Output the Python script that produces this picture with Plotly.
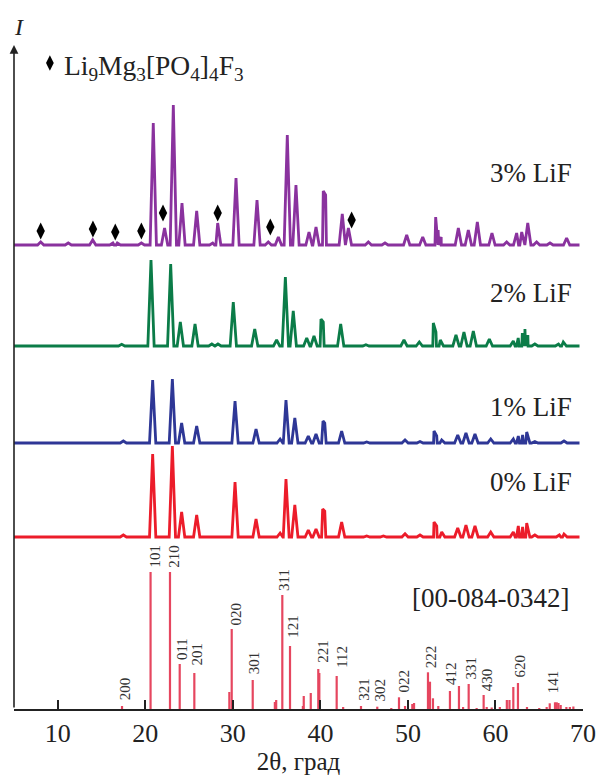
import plotly.graph_objects as go

# ---------------- data ----------------
# sample patterns: peak 2theta positions and heights (arb. units above each baseline)
pos_0 = [17.49, 20.84, 23.09, 24.15, 25.87, 30.25, 32.65, 35.4, 36.07, 37.08, 38.62, 39.5, 40.26, 40.5,
         42.43, 45.29, 47.2, 49.67, 51.38, 52.98, 53.29, 53.86, 55.69, 56.63, 57.66, 59.46,
         62.04, 62.61, 63.1, 63.57, 64.5, 67.3, 67.83]
int_0 = [2, 83, 91, 25, 22, 55, 18, 4, 58, 32, 7, 8, 28, 26,
         15, 1, 1, 3.3, 2, 15, 11, 5, 9, 12, 11, 5,
         5, 11, 10, 14, 2, 2, 3]

pos_1 = [17.49, 20.84, 23.09, 24.15, 25.87, 30.25, 32.65, 35.4, 36.07, 37.08, 38.62, 39.5, 40.3, 40.5,
         42.43, 45.29, 49.67, 51.38, 52.98, 53.29, 53.86, 55.69, 56.63, 57.66, 59.46,
         62.04, 62.61, 63.1, 63.57, 64.5, 67.83]
int_1 = [2, 63, 64, 20, 17, 42, 14, 4, 43, 25, 7, 9, 22, 20,
         12, 1, 3, 1.5, 12, 7, 3, 8, 10, 9, 4,
         4, 7, 8, 11, 1.5, 2]

pos_2 = [17.3, 20.65, 22.9, 24.0, 25.68, 27.6, 28.3, 30.05, 32.5, 35.0, 36.0, 36.9, 38.44, 39.27, 40.07, 40.33,
         42.32, 45.2, 49.55, 51.3, 52.9, 53.2, 53.7, 55.49, 56.4, 57.47, 59.3,
         62.04, 62.6, 63.07, 63.37, 63.7, 64.5, 67.2, 67.75]
int_2 = [1.7, 86, 82, 24, 22, 2, 2, 44, 17, 6, 69, 35, 8, 10, 27, 24,
         22, 1.3, 6, 4, 23, 14, 6, 11, 14, 15, 7,
         5, 8, 13, 17, 11, 2, 2, 4]

pos_3 = [8.05, 11.2, 13.99, 16.3, 16.8, 19.55, 20.91, 22.2, 23.2, 24.19, 25.87, 27.7, 28.27, 30.36, 32.76,
         34.05, 35.2, 36.22, 37.21, 38.7, 39.5, 40.33, 40.6, 42.5, 43.2, 45.48, 47.38,
         49.86, 51.69, 53.17, 53.45, 53.8, 55.76, 56.9, 57.93, 59.6, 61.28, 62.42, 63.0, 63.69,
         64.7, 66.23, 68.13]
int_3 = [3, 2, 5, 2, 2, 2, 122, 17, 140, 42, 34, 2, 22, 67, 45,
         3, 8, 110, 60, 13, 18, 54, 50, 31, 17, 3, 2,
         10, 8, 28, 15, 8, 17, 15, 23, 12, 3, 12, 13, 22,
         3, 2, 7]

# Li9Mg3[PO4]4F3 impurity marks (2theta, level above baseline)
imp_pos = [8.05, 14.02, 16.57, 19.55, 22.02, 28.27, 34.28, 43.57]
imp_lvl = [14, 16, 13, 14, 32, 32, 18, 25]

# reference card [00-084-0342]
ref_pos = [17.34, 20.6, 22.82, 23.93, 25.6, 29.6, 29.87, 32.27, 34.8, 34.95, 35.65, 36.53, 38.0, 38.1, 38.9,
           39.76, 39.88, 41.86, 42.6, 44.64, 46.5, 48.1, 48.98, 49.67, 50.5, 50.7, 52.29, 52.52, 52.86,
           53.47, 54.8, 55.83, 56.3, 56.94, 57.85, 58.65, 59.0, 59.57, 60.5, 61.3, 61.6, 62.04, 62.57,
           63.6, 65.0, 65.85, 66.2, 66.8, 67.0, 67.2, 67.45, 68.1, 68.5, 68.9]
ref_int = [3, 137, 137, 45, 36, 17, 80, 29, 7, 9, 114, 63, 3, 13, 16,
           40, 36, 33, 2, 3, 2.3, 1, 11.7, 3, 5, 6, 36.7, 27.3, 10.7,
           3, 18, 23, 2, 25, 1, 14, 2, 1.5, 2, 9, 9, 22, 26,
           2, 1, 2, 5.7, 6.7, 6.7, 6, 4, 2, 2, 2.5]

hkl = ['200', '101', '210', '011', '201', '020', '301', '311', '121', '221', '112',
       '321', '302', '022', '222', '412', '331', '430', '620', '141']
hkl_pos = [17.65, 21.0, 23.2, 24.2, 25.8, 30.35, 32.4, 35.85, 36.8, 40.2, 42.45,
           44.9, 46.8, 49.45, 52.6, 54.85, 57.1, 59.0, 62.7, 66.55]
hkl_lvl = [7, 139, 139, 47, 41, 82, 33, 116, 69, 44, 39,
           6, 6, 14, 39, 22, 27, 16, 29, 14]

series_names = ['0% LiF', '1% LiF', '2% LiF', '3% LiF']
x_ticks = [10, 20, 30, 40, 50, 60, 70]

# ---------------- layout / style ----------------
X_MIN, X_MAX = 5, 70
Y_MAX = 669
offsets = [172, 266, 363, 464]
colors = ['#EC1C2A', '#2E3796', '#0B7C48', '#8A329E']
ref_color = '#E6465F'
SERIF = 'Liberation Serif, Times New Roman, serif'
HALF = 0.36


def profile(pos, inten, base):
    pts = [(X_MIN, 0.0), (X_MAX - 0.4, 0.0)]
    for p, h in zip(pos, inten):
        pts += [(p - HALF, 0.0), (p, h), (p + HALF, 0.0)]
    pts.sort(key=lambda t: t[0])
    return [t[0] for t in pts], [base + t[1] for t in pts]


fig = go.Figure()
for pos, inten, off, col in zip([pos_0, pos_1, pos_2, pos_3], [int_0, int_1, int_2, int_3], offsets, colors):
    xs, ys = profile(pos, inten, off)
    fig.add_trace(go.Scatter(x=xs, y=ys, mode='lines', line=dict(color=col, width=2.8),
                             hoverinfo='skip', showlegend=False))

# reference sticks
rx, ry = [], []
for p, h in zip(ref_pos, ref_int):
    rx += [p, p, None]
    ry += [0, h, None]
fig.add_trace(go.Scatter(x=rx, y=ry, mode='lines', line=dict(color=ref_color, width=2.2),
                         hoverinfo='skip', showlegend=False))

# impurity diamonds
fig.add_trace(go.Scatter(x=imp_pos, y=[offsets[3] + v for v in imp_lvl], mode='markers',
                         marker=dict(symbol='diamond-tall', size=12, color='black'),
                         hoverinfo='skip', showlegend=False))
# legend diamond
fig.add_trace(go.Scatter(x=[9.1], y=[646], mode='markers',
                         marker=dict(symbol='diamond-tall', size=11, color='black'),
                         hoverinfo='skip', showlegend=False, cliponaxis=False))

ann = []
for name, pos, lvl in zip(hkl, hkl_pos, hkl_lvl):
    ann.append(dict(x=pos, y=lvl, text=name, textangle=-90, showarrow=False,
                    xanchor='center', yanchor='bottom',
                    font=dict(family=SERIF, size=15, color='#333')))

label_y = [227, 302, 416, 536]
for name, ly in zip(series_names, label_y):
    ann.append(dict(x=64.1, y=ly, text=name, showarrow=False, xanchor='center', yanchor='middle',
                    font=dict(family=SERIF, size=27, color='#222')))

ann.append(dict(x=59.4, y=111, text='[00-084-0342]', showarrow=False, xanchor='center', yanchor='middle',
                font=dict(family=SERIF, size=27, color='#222')))
ann.append(dict(x=10.5, y=642, text='Li<sub>9</sub>Mg<sub>3</sub>[PO<sub>4</sub>]<sub>4</sub>F<sub>3</sub>',
                showarrow=False, xanchor='left', yanchor='middle',
                font=dict(family=SERIF, size=27.5, color='#222')))
# y axis arrow
ann.append(dict(x=X_MIN, y=664, ax=X_MIN, ay=0, xref='x', yref='y', axref='x', ayref='y',
                text='', showarrow=True, arrowhead=2, arrowsize=1.1, arrowwidth=1.6, arrowcolor='#222'))
ann.append(dict(x=0.009, y=1.019, xref='paper', yref='paper', text='<i>I</i>', showarrow=False,
                xanchor='center', yanchor='middle', font=dict(family=SERIF, size=24, color='#222')))

fig.update_layout(
    width=596, height=775,
    margin=dict(l=14, r=13, t=40, b=66, autoexpand=False),
    plot_bgcolor='white', paper_bgcolor='white',
    annotations=ann,
    xaxis=dict(range=[X_MIN, X_MAX], showgrid=False, zeroline=False, showline=True, automargin=False,
               linecolor='#222', linewidth=1.8, ticks='inside', ticklen=9, tickwidth=1.8,
               tickcolor='#222', tickvals=x_ticks,
               tickfont=dict(family=SERIF, size=26, color='#222'),
               title=dict(text='2θ, град', font=dict(family=SERIF, size=25, color='#222'), standoff=2)),
    yaxis=dict(range=[0, Y_MAX], showgrid=False, zeroline=False, showline=False, automargin=False,
               showticklabels=False, ticks=''),
)

fig.write_html('out.html', config={'displayModeBar': False},
               post_script="document.body.style.margin='0';")
